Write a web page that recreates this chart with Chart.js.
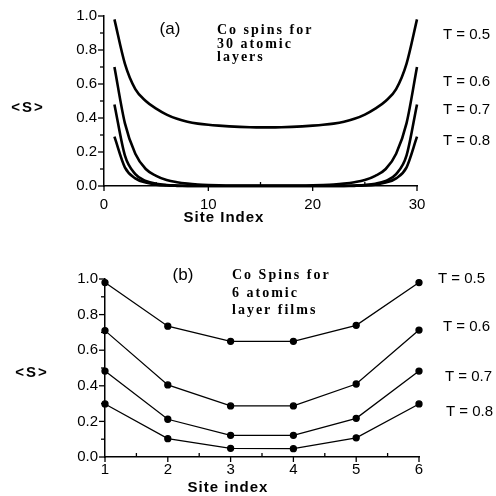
<!DOCTYPE html>
<html>
<head>
<meta charset="utf-8">
<script src="https://cdn.jsdelivr.net/npm/chart.js@4/dist/chart.umd.min.js"></script>
<style>
    html, body { margin: 0; padding: 0; background: #fff; }
    #wrap { position: relative; width: 496px; height: 496px; }
    #chartA { position: absolute; left: 0; top: 0; }
    #chartB { position: absolute; left: 0; top: 240px; }
</style>
</head>
<body>
<div id="wrap">
    <canvas id="chartA" width="496" height="240"></canvas>
    <canvas id="chartB" width="496" height="256"></canvas>
</div>
<script>
// Panel (a): 30 atomic layers
const sites30 = [1, 2, 3, 4, 5, 6, 7, 8, 9, 10, 11, 12, 13, 14, 15,
                 16, 17, 18, 19, 20, 21, 22, 23, 24, 25, 26, 27, 28, 29, 30];
const spinA_T05 = [0.98, 0.72, 0.57, 0.50, 0.455, 0.42, 0.395, 0.378, 0.367, 0.36, 0.355, 0.351, 0.348, 0.346, 0.345,
                   0.345, 0.346, 0.348, 0.351, 0.355, 0.36, 0.367, 0.378, 0.395, 0.42, 0.455, 0.50, 0.57, 0.72, 0.98];
const spinA_T06 = [0.70, 0.37, 0.19, 0.10, 0.06, 0.035, 0.022, 0.014, 0.009, 0.006, 0.004, 0.003, 0.002, 0.002, 0.002,
                   0.002, 0.002, 0.002, 0.003, 0.004, 0.006, 0.009, 0.014, 0.022, 0.035, 0.06, 0.10, 0.19, 0.37, 0.70];
const spinA_T07 = [0.48, 0.18, 0.07, 0.03, 0.013, 0.006, 0.003, 0.001, 0, 0, 0, 0, 0, 0, 0,
                   0, 0, 0, 0, 0, 0, 0, 0.001, 0.003, 0.006, 0.013, 0.03, 0.07, 0.18, 0.48];
const spinA_T08 = [0.29, 0.11, 0.045, 0.02, 0.008, 0.003, 0.001, 0, 0, 0, 0, 0, 0, 0, 0,
                   0, 0, 0, 0, 0, 0, 0, 0, 0.001, 0.003, 0.008, 0.02, 0.045, 0.11, 0.29];

// Panel (b): 6 atomic layer films
const sites6 = [1, 2, 3, 4, 5, 6];
const spinB_T05 = [0.98, 0.735, 0.65, 0.65, 0.74, 0.98];
const spinB_T06 = [0.71, 0.405, 0.287, 0.287, 0.41, 0.713];
const spinB_T07 = [0.483, 0.212, 0.122, 0.122, 0.217, 0.483];
const spinB_T08 = [0.298, 0.103, 0.049, 0.047, 0.108, 0.298];

const tempLabels = ['T = 0.5', 'T = 0.6', 'T = 0.7', 'T = 0.8'];

function toPoints(xs, ys) {
    return xs.map((x, i) => ({ x: x, y: ys[i] }));
}

// Draws tick marks (major outside, minor shorter) and free text
const decorPlugin = {
    id: 'decor',
    afterDraw(chart, args, opts) {
        const ctx = chart.ctx;
        const area = chart.chartArea;
        const xs = chart.scales.x, ys = chart.scales.y;
        ctx.save();
        ctx.strokeStyle = '#000';
        ctx.lineWidth = 1.3;
        xs.ticks.forEach(t => {
            const px = xs.getPixelForValue(t.value);
            ctx.beginPath();
            if (t.label !== '') {
                ctx.moveTo(px, area.bottom);
                ctx.lineTo(px, area.bottom + 5);
            } else {
                ctx.moveTo(px, area.bottom);
                ctx.lineTo(px, area.bottom - 4);
            }
            ctx.stroke();
        });
        ys.ticks.forEach(t => {
            const py = ys.getPixelForValue(t.value);
            const len = t.label !== '' ? 6 : 4;
            ctx.beginPath();
            ctx.moveTo(area.left - len, py);
            ctx.lineTo(area.left, py);
            ctx.stroke();
        });
        ctx.fillStyle = '#000';
        ctx.textBaseline = 'middle';
        (opts.texts || []).forEach(t => {
            ctx.font = t.font;
            ctx.letterSpacing = t.spacing || '0px';
            ctx.textAlign = t.align || 'left';
            ctx.fillText(t.text, t.x, t.y);
        });
        ctx.restore();
    }
};

function makeScales(xMin, xMax, xStep, xLabel, xPad, fixedYWidth, fixedXHeight) {
    return {
        x: {
            type: 'linear', min: xMin, max: xMax,
            grid: { display: false, drawTicks: false },
            border: { display: true, color: '#000', width: 1.5 },
            ticks: {
                stepSize: xStep, autoSkip: false, maxRotation: 0, padding: xPad,
                color: '#000', font: { family: 'Liberation Sans', size: 15 },
                callback: xLabel
            },
            afterFit: s => { s.height = fixedXHeight; }
        },
        y: {
            type: 'linear', min: 0, max: 1,
            grid: { display: false, drawTicks: false },
            border: { display: true, color: '#000', width: 1.5 },
            ticks: {
                stepSize: 0.1, autoSkip: false, padding: 7,
                color: '#000', font: { family: 'Liberation Sans', size: 15 },
                callback: v => (Math.round(v * 10) % 2 === 0 ? v.toFixed(1) : '')
            },
            afterFit: s => { s.width = fixedYWidth; }
        }
    };
}

function initializeCharts() {
    const sansBig = '15px "Liberation Sans"';
    const serifBold = 'bold 14px "Liberation Serif"';
    const axisFont = 'bold 15px "Liberation Sans"';

    // (a) Co spins for 30 atomic layers
    const seriesA = [spinA_T05, spinA_T06, spinA_T07, spinA_T08];
    new Chart(document.getElementById('chartA'), {
        type: 'line',
        data: {
            datasets: seriesA.map((s, i) => ({
                label: tempLabels[i],
                data: toPoints(sites30, s),
                borderColor: '#000',
                borderWidth: 2.6,
                pointRadius: 0,
                cubicInterpolationMode: 'monotone',
                fill: false,
                clip: false
            }))
        },
        options: {
            responsive: false,
            animation: false,
            layout: { padding: { left: 0, right: 79, top: 14, bottom: 24 } },
            plugins: {
                legend: { display: false },
                tooltip: { enabled: false },
                decor: {
                    texts: [
                        { text: '(a)', x: 170, y: 29, font: '17px "Liberation Sans"', align: 'center' },
                        { text: 'Co spins for', x: 217, y: 30, font: serifBold, spacing: '2px' },
                        { text: '30 atomic', x: 217, y: 44, font: serifBold, spacing: '2px' },
                        { text: 'layers', x: 217, y: 57, font: serifBold, spacing: '2px' },
                        { text: tempLabels[0], x: 443, y: 35, font: sansBig },
                        { text: tempLabels[1], x: 443, y: 82, font: sansBig },
                        { text: tempLabels[2], x: 443, y: 110, font: sansBig },
                        { text: tempLabels[3], x: 443, y: 141, font: sansBig },
                        { text: '<S>', x: 28, y: 108, font: 'bold 15px "Liberation Sans"', align: 'center', spacing: '2px' },
                        { text: 'Site Index', x: 224, y: 218, font: axisFont, align: 'center', spacing: '1px' }
                    ]
                }
            },
            scales: makeScales(0, 30, 5, v => (v % 10 === 0 ? v : ''), 10, 104, 30)
        },
        plugins: [decorPlugin]
    });

    // (b) Co Spins for 6 atomic layer films
    const seriesB = [spinB_T05, spinB_T06, spinB_T07, spinB_T08];
    new Chart(document.getElementById('chartB'), {
        type: 'line',
        data: {
            datasets: seriesB.map((s, i) => ({
                label: tempLabels[i],
                data: toPoints(sites6, s),
                borderColor: '#000',
                borderWidth: 1.3,
                pointRadius: 3,
                pointBackgroundColor: '#000',
                pointBorderColor: '#000',
                tension: 0,
                fill: false,
                clip: false
            }))
        },
        options: {
            responsive: false,
            animation: false,
            layout: { padding: { left: 0, right: 77, top: 39, bottom: 9 } },
            plugins: {
                legend: { display: false },
                tooltip: { enabled: false },
                decor: {
                    texts: [
                        { text: '(b)', x: 183, y: 35, font: '17px "Liberation Sans"', align: 'center' },
                        { text: 'Co Spins for', x: 232, y: 35, font: serifBold, spacing: '2px' },
                        { text: '6 atomic', x: 232, y: 53, font: serifBold, spacing: '2px' },
                        { text: 'layer films', x: 232, y: 70, font: serifBold, spacing: '2px' },
                        { text: tempLabels[0], x: 438, y: 39, font: sansBig },
                        { text: tempLabels[1], x: 443, y: 87, font: sansBig },
                        { text: tempLabels[2], x: 445, y: 137, font: sansBig },
                        { text: tempLabels[3], x: 446, y: 172, font: sansBig },
                        { text: '<S>', x: 32, y: 133, font: 'bold 15px "Liberation Sans"', align: 'center', spacing: '2px' },
                        { text: 'Site index', x: 228, y: 248, font: axisFont, align: 'center', spacing: '1px' }
                    ]
                }
            },
            scales: makeScales(1, 6, 0.5, v => (Number.isInteger(v) ? v : ''), 4, 105, 30)
        },
        plugins: [decorPlugin]
    });
}

document.addEventListener('DOMContentLoaded', initializeCharts);
</script>
</body>
</html>
